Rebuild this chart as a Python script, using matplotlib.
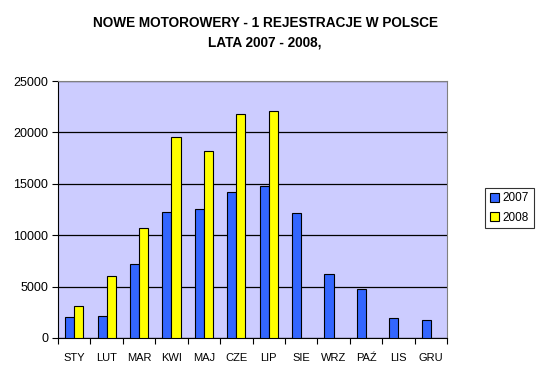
import numpy as np
import matplotlib
matplotlib.use('Agg')
import matplotlib.pyplot as plt
from matplotlib.ticker import FixedLocator, NullFormatter

plt.rcParams['font.family'] = ['Liberation Sans', 'DejaVu Sans']

# data
months = ['STY', 'LUT', 'MAR', 'KWI', 'MAJ', 'CZE', 'LIP', 'SIE', 'WRZ', 'PAŹ', 'LIS', 'GRU']
reg_2007 = [2010, 2110, 7170, 12230, 12520, 14170, 14750, 12130, 6220, 4770, 1910, 1750]
reg_2008 = [3080, 6000, 10670, 19520, 18160, 21760, 22050]
yticks = [0, 5000, 10000, 15000, 20000, 25000]

fig = plt.figure(figsize=(5.39, 3.76), dpi=100)
ax = fig.add_axes([58 / 539, 38 / 376, 389 / 539, 257 / 376])
ax.set_facecolor('#CCCCFF')

x = np.arange(len(months))
w = 0.28
ax.bar(x[:len(reg_2007)] - w / 2, reg_2007, w, color='#3366FF',
       edgecolor='black', linewidth=0.8, label='2007', zorder=3)
ax.bar(x[:len(reg_2008)] + w / 2, reg_2008, w, color='#FFFF00',
       edgecolor='black', linewidth=0.8, label='2008', zorder=3)

ax.set_xlim(-0.5, len(months) - 0.5)
ax.set_ylim(0, 25000)
ax.set_yticks(yticks)
ax.set_yticklabels([str(v) for v in yticks], fontsize=9)
ax.yaxis.grid(True, color='black', linewidth=0.9, zorder=1)

# month labels centred, tick marks between categories
ax.set_xticks(x)
ax.set_xticklabels(months, fontsize=8)
ax.tick_params(axis='x', which='major', length=0, pad=11)
ax.xaxis.set_minor_locator(FixedLocator(np.arange(-0.5, len(months), 1.0)))
ax.xaxis.set_minor_formatter(NullFormatter())
ax.tick_params(axis='x', which='minor', length=4, width=0.8, direction='out')
ax.tick_params(axis='y', length=4, width=0.8, direction='out', pad=3)

ax.spines['left'].set_color('black')
ax.spines['bottom'].set_color('black')
ax.spines['top'].set_color('#808080')
ax.spines['right'].set_color('#808080')

fig.text(0.492, 1 - 32.5 / 376, 'NOWE MOTOROWERY - 1 REJESTRACJE W POLSCE\nLATA 2007 - 2008,',
         ha='center', va='center', fontsize=9.8, fontweight='bold', linespacing=1.5)

leg = fig.legend(loc='center', bbox_to_anchor=(509.5 / 539, 1 - 208 / 376),
                 fontsize=8.5, frameon=True, fancybox=False, edgecolor='black',
                 handlelength=0.8, handleheight=0.8, handletextpad=0.3,
                 borderpad=0.4, labelspacing=0.6, borderaxespad=0)
leg.get_frame().set_linewidth(0.8)

fig.savefig('out.png', dpi=100)
